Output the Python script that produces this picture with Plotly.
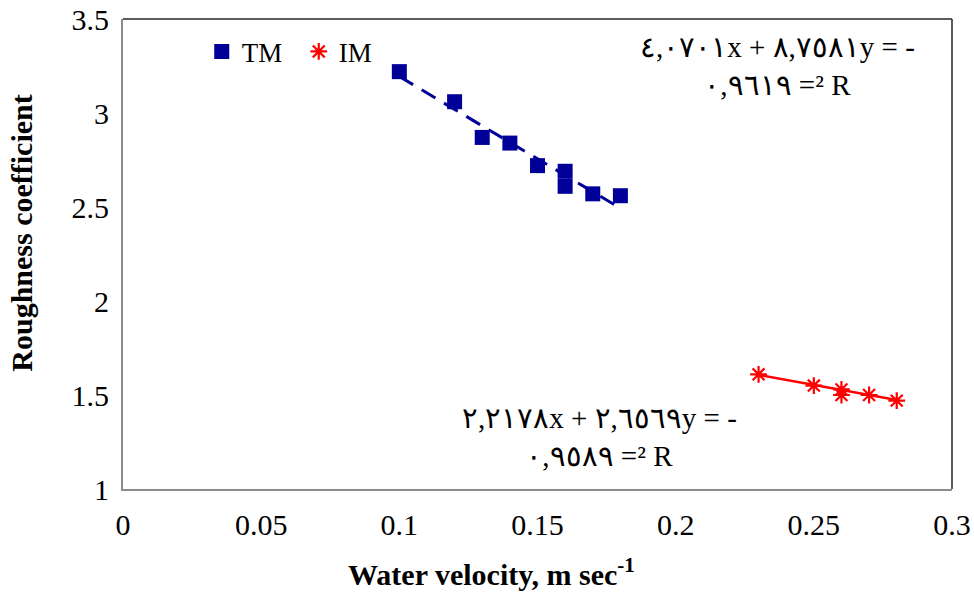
import plotly.graph_objects as go

# ---- data ----
tm_velocity = [0.10, 0.12, 0.13, 0.14, 0.15, 0.16, 0.16, 0.17, 0.18]
tm_roughness = [3.22, 3.06, 2.87, 2.84, 2.72, 2.69, 2.61, 2.57, 2.56]

im_velocity = [0.23, 0.25, 0.26, 0.26, 0.27, 0.28]
im_roughness = [1.61, 1.55, 1.53, 1.50, 1.50, 1.47]

tm_slope, tm_intercept = -8.7581, 4.0701
im_slope, im_intercept = -2.6569, 2.2178

tm_equation = "٤,٠٧٠١x + ٨,٧٥٨١y = -<br>٠,٩٦١٩ =² R"
im_equation = "٢,٢١٧٨x + ٢,٦٥٦٩y = -<br>٠,٩٥٨٩ =² R"

x_title = "<b>Water velocity, m sec<sup>-1</sup></b>"
y_title = "<b>Roughness coefficient</b>"

x_ticks = [0, 0.05, 0.1, 0.15, 0.2, 0.25, 0.3]
x_tick_labels = ["0", "0.05", "0.1", "0.15", "0.2", "0.25", "0.3"]
y_ticks = [1, 1.5, 2, 2.5, 3, 3.5]
y_tick_labels = ["1", "1.5", "2", "2.5", "3", "3.5"]

FONT = "Liberation Serif, Times New Roman, serif"
BLUE = "#000099"
RED = "#ff0000"

def trend(xs, m, b):
    x0, x1 = min(xs), max(xs)
    return [x0, x1], [m * x0 + b, m * x1 + b]

fig = go.Figure()

tx, ty = trend(tm_velocity, tm_slope, tm_intercept)
fig.add_trace(go.Scatter(x=tx, y=ty, mode="lines", showlegend=False,
                         line=dict(color=BLUE, width=3, dash="16px,10px"), hoverinfo="skip"))
ix, iy = trend(im_velocity, im_slope, im_intercept)
fig.add_trace(go.Scatter(x=ix, y=iy, mode="lines", showlegend=False,
                         line=dict(color=RED, width=2.5), hoverinfo="skip"))

fig.add_trace(go.Scatter(x=tm_velocity, y=tm_roughness, mode="markers", name="TM",
                         marker=dict(symbol="square", size=15, color=BLUE)))
fig.add_trace(go.Scatter(x=im_velocity, y=im_roughness, mode="markers", name="IM",
                         marker=dict(symbol="asterisk-open", size=14,
                                     line=dict(color=RED, width=2.2), color=RED)))

fig.add_annotation(x=0.79, y=0.901, xref="paper", yref="paper", text=tm_equation,
                   xanchor="center", yanchor="middle",
                   showarrow=False, font=dict(family=FONT, size=29, color="black"),
                   align="center")
fig.add_annotation(x=0.575, y=0.11, xref="paper", yref="paper", text=im_equation,
                   xanchor="center", yanchor="middle",
                   showarrow=False, font=dict(family=FONT, size=29, color="black"),
                   align="center")

# axis titles (placed as in the reference, slightly off-centre)
fig.add_annotation(x=0.445, y=-0.176, xref="paper", yref="paper", text=x_title,
                   xanchor="center", yanchor="middle", showarrow=False,
                   font=dict(family=FONT, size=30, color="black"))
fig.add_annotation(x=-0.122, y=0.545, xref="paper", yref="paper", text=y_title,
                   xanchor="center", yanchor="middle", showarrow=False, textangle=-90,
                   font=dict(family=FONT, size=30, color="black"))

# top and right dark border
fig.add_shape(type="line", xref="paper", yref="paper", x0=0, x1=1, y0=1, y1=1,
              line=dict(color="#262626", width=1.5))
fig.add_shape(type="line", xref="paper", yref="paper", x0=1, x1=1, y0=0, y1=1,
              line=dict(color="#262626", width=1.5))

fig.update_layout(
    width=974, height=594,
    margin=dict(l=123, r=22, t=19, b=105, autoexpand=False),
    paper_bgcolor="white", plot_bgcolor="white",
    font=dict(family=FONT, size=30, color="black"),
    legend=dict(orientation="h", x=0.095, y=0.93, xanchor="left", yanchor="middle",
                font=dict(family=FONT, size=27), bgcolor="rgba(0,0,0,0)",
                itemwidth=30, tracegroupgap=0, entrywidth=52, entrywidthmode="pixels"),
    xaxis=dict(range=[0, 0.3], tickvals=x_ticks, ticktext=x_tick_labels,
               showgrid=False, zeroline=False, showline=True, linecolor="#8c8c8c",
               linewidth=2, ticks="outside", ticklen=8, tickcolor="rgba(0,0,0,0)",
               automargin=False, ticklabeloverflow="allow"),
    yaxis=dict(range=[1, 3.5], tickvals=y_ticks, ticktext=y_tick_labels,
               showgrid=False, zeroline=False, showline=True, linecolor="#8c8c8c",
               linewidth=2, ticks="outside", ticklen=6, tickcolor="rgba(0,0,0,0)",
               automargin=False, ticklabeloverflow="allow"),
)

fig.write_html("out.html", config={"displayModeBar": False},
               post_script="document.body.style.margin='0';")
